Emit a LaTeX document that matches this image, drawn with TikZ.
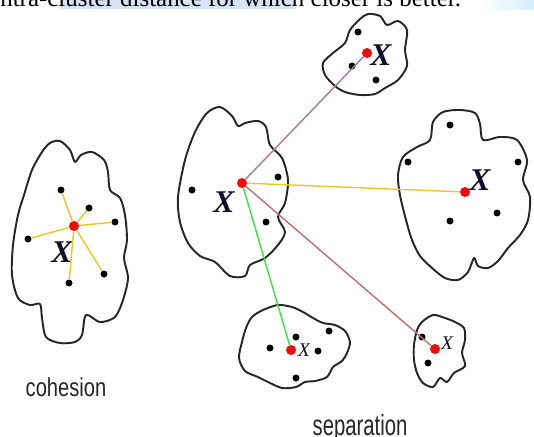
\documentclass[tikz,border=0pt]{standalone}
\usepackage{fontspec}
\setmainfont{Liberation Serif}
\setsansfont{Liberation Sans}
\usetikzlibrary{arrows}

\definecolor{markred}{RGB}{240,12,12}
\definecolor{linkgold}{RGB}{240,196,40}
\definecolor{linkgreen}{RGB}{60,225,60}
\definecolor{linkmauve}{RGB}{176,118,146}
\definecolor{linkrose}{RGB}{192,110,110}
\definecolor{labelink}{RGB}{15,15,45}
\definecolor{markblue}{RGB}{214,228,246}
\definecolor{markcyan}{RGB}{212,238,250}

\begin{document}
\begin{tikzpicture}[x=0.02cm,y=-0.02cm,
    red dot/.style={circle,fill=markred,inner sep=0pt,minimum size=0.2cm},
    black dot/.style={circle,fill=black,inner sep=0pt,minimum size=0.14cm},
    blob/.style={draw=black!85,line width=1.1pt,line join=round},
    big x/.style={inner sep=0pt,text=labelink,font=\fontsize{18}{18}\selectfont\bfseries\itshape},
    small x/.style={inner sep=0pt,text=labelink,font=\fontsize{11}{11}\selectfont\itshape},
    caption/.style={inner sep=0pt,anchor=base,text=black!85}]
  \useasboundingbox (0,0) rectangle (534,436);

  % cut line of text above the figure
  \fill[markblue] (60,0) rectangle (296,9);
  \shade[left color=white,right color=markcyan] (478,0) rectangle (534,9);
  \node[anchor=base west,inner sep=0pt,font=\fontsize{14.2}{14.2}\selectfont] (head) at (-7,7)
    {intra-cluster distance for which closer is better.};

  % cluster outlines
  \draw[blob] plot[smooth cycle,tension=0.5] coordinates {
    (60,141) (70,150) (75,162) (81,155) (92,152) (104,160) (108,172) (110,190)
    (120,198) (125,215) (127,240) (124,258) (128,278) (123,300) (115,317) (100,322)
    (86,315) (82,335) (75,342) (60,343) (46,337) (42,318) (40,304) (30,305)
    (18,298) (12,275) (13,245) (18,215) (24,195) (32,170) (42,152) (50,143)};
  \draw[blob] plot[smooth cycle,tension=0.5] coordinates {
    (220,107) (232,116) (238,126) (245,123) (258,121) (266,127) (270,145) (282,158)
    (288,180) (285,203) (278,217) (285,232) (278,245) (265,258) (250,265) (245,276)
    (230,276) (215,262) (200,256) (188,243) (180,222) (178,197) (185,160) (195,132)
    (207,113)};
  \draw[blob] plot[smooth cycle,tension=0.5] coordinates {
    (368,14) (380,16) (387,25) (398,21) (407,30) (405,50) (407,66) (398,80)
    (385,88) (375,94) (360,95) (345,92) (335,86) (325,75) (323,63) (333,53)
    (345,43) (350,30) (360,19)};
  \draw[blob] plot[smooth cycle,tension=0.5] coordinates {
    (443,112) (460,110) (475,113) (480,124) (483,140) (500,137) (517,140) (527,160)
    (523,180) (530,197) (528,220) (520,235) (508,248) (498,261) (488,268) (478,266)
    (474,258) (468,272) (458,280) (445,278) (432,268) (420,256) (412,240) (406,220)
    (400,195) (398,175) (403,157) (417,147) (430,140) (433,122)};
  \draw[blob] plot[smooth cycle,tension=0.5] coordinates {
    (252,317) (263,310) (278,305) (292,307) (303,312) (313,318) (323,323) (335,325)
    (345,331) (350,342) (347,353) (342,361) (333,367) (327,377) (315,381) (305,382)
    (296,387) (282,388) (268,382) (258,377) (245,371) (239,358) (242,342) (246,328)};
  \draw[blob] plot[smooth cycle,tension=0.5] coordinates {
    (417,330) (422,322) (433,315) (445,318) (455,322) (464,328) (465,340) (462,353)
    (465,366) (454,373) (447,382) (440,378) (433,387) (423,383) (417,373) (414,360)
    (414,345)};

  % cohesion cluster
  \node[red dot] (c1) at (74,226) {};
  \node[black dot] (p11) at (61,190) {};
  \node[black dot] (p12) at (89,208) {};
  \node[black dot] (p13) at (115,222) {};
  \node[black dot] (p14) at (28,239) {};
  \node[black dot] (p15) at (104,274) {};
  \node[black dot] (p16) at (69,283) {};
  \node[big x] (x1) at (62,252) {X};

  % separation clusters
  \node[red dot] (c2) at (242,183) {};
  \node[black dot] (p21) at (192,190) {};
  \node[black dot] (p22) at (278,177) {};
  \node[black dot] (p23) at (266,222) {};
  \node[big x] (x2) at (224,202) {X};

  \node[red dot] (c3) at (367,53) {};
  \node[black dot] (p31) at (358,32) {};
  \node[black dot] (p32) at (352,66) {};
  \node[black dot] (p33) at (376,80) {};
  \node[big x] (x3) at (381,55) {X};

  \node[red dot] (c4) at (465,192) {};
  \node[black dot] (p41) at (450,125) {};
  \node[black dot] (p42) at (408,162) {};
  \node[black dot] (p43) at (518,162) {};
  \node[black dot] (p44) at (497,213) {};
  \node[black dot] (p45) at (450,221) {};
  \node[big x] (x4) at (480,180) {X};

  \node[red dot] (c5) at (291,350) {};
  \node[black dot] (p51) at (270,348) {};
  \node[black dot] (p52) at (296,337) {};
  \node[black dot] (p53) at (318,351) {};
  \node[black dot] (p54) at (329,331) {};
  \node[black dot] (p55) at (296,378) {};
  \node[small x] (x5) at (304,350) {X};

  \node[red dot] (c6) at (435,349) {};
  \node[black dot] (p61) at (422,337) {};
  \node[black dot] (p62) at (428,363) {};
  \node[small x] (x6) at (447,343) {X};

  \path[draw=linkgold,line width=0.8pt]
    (c1) edge (p11)
    (c1) edge (p12)
    (c1) edge (p13)
    (c1) edge (p14)
    (c1) edge (p15)
    (c1) edge (p16);

  \path[line width=0.8pt]
    (c2) edge[draw=linkmauve] (c3)
    (c2) edge[draw=linkgold] (c4)
    (c2) edge[draw=linkgreen] (c5)
    (c2) edge[draw=linkrose] (c6);

  \node[caption] (coh) at (66,396)
    {\sffamily\fontsize{14.7}{14.7}\selectfont\scalebox{0.78}[1]{cohesion}};
  \node[caption] (sep) at (360,435)
    {\sffamily\fontsize{16.5}{16.5}\selectfont\scalebox{0.7}[1]{separation}};
\end{tikzpicture}
\end{document}
